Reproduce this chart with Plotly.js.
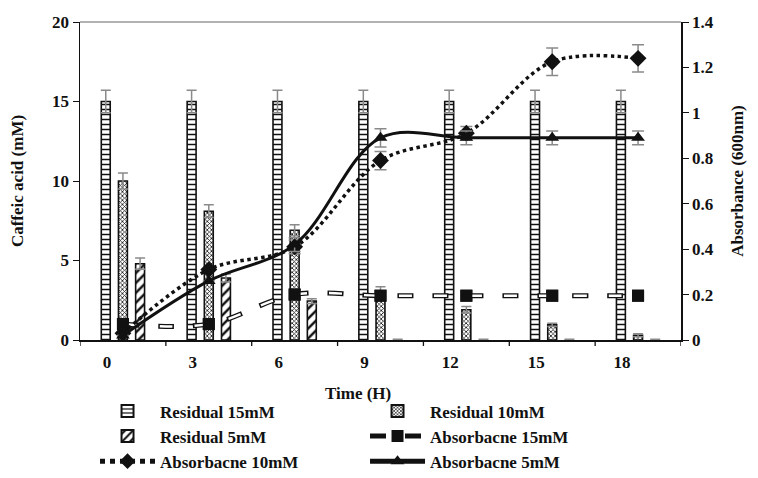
<!DOCTYPE html>
<html>
<head>
<meta charset="utf-8">
<script src="https://cdn.plot.ly/plotly-3.0.1.min.js"></script>
<style>html,body{margin:0;padding:0;background:#fff;}#chart{width:758px;height:478px;}</style>
</head>
<body>
<div id="chart"></div>
<script>
// ---- data ----
const times = [0, 3, 6, 9, 12, 15, 18];
const tickLabels = ['0', '3', '6', '9', '12', '15', '18'];

const residual15 = [15, 15, 15, 15, 15, 15, 15];
const residual15Err = [0.7, 0.7, 0.7, 0.7, 0.7, 0.7, 0.7];
const residual10 = [10, 8.1, 6.9, 3.1, 1.9, 0.95, 0.3];
const residual10Err = [0.5, 0.4, 0.35, 0.25, 0.2, 0.1, 0.1];
const residual5 = [4.8, 3.9, 2.45, 0, 0, 0, 0];
const residual5Err = [0.35, 0.25, 0.15, 0.05, 0.05, 0.05, 0.05];

const abs15 = [0.07, 0.07, 0.2, 0.195, 0.195, 0.195, 0.195];
const abs10 = [0.03, 0.31, 0.41, 0.79, 0.91, 1.225, 1.24];
const abs10Err = [0, 0, 0.03, 0.04, 0.03, 0.06, 0.06];
const abs5 = [0.02, 0.26, 0.42, 0.89, 0.89, 0.89, 0.89];
const abs5Err = [0, 0, 0.03, 0.04, 0.03, 0.03, 0.03];

// ---- chart ----
const FONT = 'Liberation Serif, Times New Roman, serif';
const errGrey = '#8a8a8a';
// tick marks sit on the category boundaries; labels are shifted left under the first bar
const boundaries = [-1.5].concat(times.map(t => t + 1.5));

function barErr(arr) {
  return {type: 'data', array: arr, visible: true, color: errGrey, thickness: 1.5, width: 5};
}

const traces = [
  {type: 'bar', name: 'Residual 15mM', x: times, y: residual15, yaxis: 'y', xaxis: 'x',
   marker: {color: '#fff', line: {color: '#111', width: 1.6},
            pattern: {shape: '-', fgcolor: '#111', bgcolor: '#fff', size: 5, solidity: 0.3}},
   error_y: barErr(residual15Err)},
  {type: 'bar', name: 'Residual 10mM', x: times, y: residual10, yaxis: 'y', xaxis: 'x',
   marker: {color: '#fff', line: {color: '#111', width: 1.6},
            pattern: {shape: 'x', fgcolor: '#111', bgcolor: '#fff', size: 3, solidity: 0.45}},
   error_y: barErr(residual10Err)},
  {type: 'bar', name: 'Residual 5mM', x: times, y: residual5, yaxis: 'y', xaxis: 'x',
   marker: {color: '#fff', line: {color: '#111', width: 1.6},
            pattern: {shape: '/', fgcolor: '#111', bgcolor: '#fff', size: 7, solidity: 0.35}},
   error_y: barErr(residual5Err)},
  // Absorbance 15mM: hollow dashes (black outline + white core)
  {type: 'scatter', mode: 'lines+markers', name: 'Absorbacne 15mM', x: times, y: abs15, yaxis: 'y2', xaxis: 'x',
   line: {color: '#111', width: 5, dash: '16px,19px', shape: 'spline', smoothing: 1},
   marker: {symbol: 'square', size: 12, color: '#111'}},
  {type: 'scatter', mode: 'lines', showlegend: false, hoverinfo: 'skip', x: times, y: abs15, yaxis: 'y2', xaxis: 'x',
   line: {color: '#fff', width: 2.4, dash: '0px,1.5px,13px,20.5px', shape: 'spline', smoothing: 1}},
  {type: 'scatter', mode: 'markers', showlegend: false, x: times, y: abs15, yaxis: 'y2', xaxis: 'x',
   marker: {symbol: 'square', size: 12, color: '#111'}},
  {type: 'scatter', mode: 'lines+markers', name: 'Absorbacne 10mM', x: times, y: abs10, yaxis: 'y2', xaxis: 'x',
   line: {color: '#111', width: 3.5, dash: 'dot', shape: 'spline', smoothing: 1},
   marker: {symbol: 'diamond', size: 13, color: '#111'},
   error_y: {type: 'data', array: abs10Err, color: errGrey, thickness: 1.5, width: 6}},
  {type: 'scatter', mode: 'lines+markers', name: 'Absorbacne 5mM', x: times, y: abs5, yaxis: 'y2', xaxis: 'x',
   line: {color: '#111', width: 3, shape: 'spline', smoothing: 1},
   marker: {symbol: 'triangle-up', size: 12, color: '#111'},
   error_y: {type: 'data', array: abs5Err, color: errGrey, thickness: 1.5, width: 6}}
];

const tickFont = {family: FONT, size: 17, color: '#111', weight: 'bold'};
const boundaryTicks = boundaries.map(b => ({type: 'line', xref: 'x', yref: 'paper', x0: b, x1: b,
  y0: 0, y1: -6 / 318, line: {color: '#111', width: 1.3}}));

const layout = {
  width: 758, height: 478,
  margin: {l: 80, r: 77, t: 22, b: 138, autoexpand: false},
  paper_bgcolor: '#fff', plot_bgcolor: '#fff',
  barmode: 'group', bargap: 0.4, bargroupgap: 0.48,
  xaxis: {range: [-1.5, 19.5], tickmode: 'array', tickvals: times, ticktext: tickLabels,
          ticklabelshift: -16, ticks: 'outside', ticklen: 6, tickcolor: 'rgba(0,0,0,0)', tickfont: tickFont,
          showline: true, linecolor: '#111', linewidth: 1.5,
          showgrid: false, zeroline: false, fixedrange: true},
  yaxis: {range: [0, 20], tickvals: [0, 5, 10, 15, 20], ticks: 'outside', ticklen: 6, tickcolor: '#111',
          showline: true, linecolor: '#111', linewidth: 1.5, showgrid: false, zeroline: false,
          tickfont: tickFont,
          title: {text: 'Caffeic acid (mM)', font: {family: FONT, size: 17, color: '#111', weight: 'bold'}, standoff: 24}},
  yaxis2: {range: [0, 1.4], tickvals: [0, 0.2, 0.4, 0.6, 0.8, 1, 1.2, 1.4],
           ticktext: ['0', '0.2', '0.4', '0.6', '0.8', '1', '1.2', '1.4'],
           overlaying: 'y', side: 'right', anchor: 'x', ticks: 'outside', ticklen: 6, tickcolor: '#111',
           showline: true, linecolor: '#111', linewidth: 1.5, showgrid: false, zeroline: false,
           tickfont: tickFont,
           title: {text: 'Absorbance (600nm)', font: {family: FONT, size: 17, color: '#111', weight: 'bold'}, standoff: 18}},
  shapes: [{type: 'line', xref: 'paper', yref: 'paper', x0: 0, x1: 1, y0: 1, y1: 1,
            line: {color: '#999', width: 1.5}}].concat(boundaryTicks),
  annotations: [{text: 'Time (H)', xref: 'paper', yref: 'paper', x: (358 - 80) / 601, y: (340 - 393) / 318,
                 xanchor: 'center', yanchor: 'middle', showarrow: false,
                 font: {family: FONT, size: 17, color: '#111', weight: 'bold'}}],
  showlegend: true,
  legend: {orientation: 'h', x: 0.025, y: -0.168, xanchor: 'left', yanchor: 'top',
           entrywidth: 200, entrywidthmode: 'pixels', itemwidth: 55, traceorder: 'normal',
           font: {family: FONT, size: 17, color: '#111', weight: 'bold'}, bgcolor: 'rgba(0,0,0,0)',
           tracegroupgap: 0, itemsizing: 'constant'}
};

Plotly.newPlot('chart', traces, layout, {staticPlot: true, displayModeBar: false});
</script>
</body>
</html>
